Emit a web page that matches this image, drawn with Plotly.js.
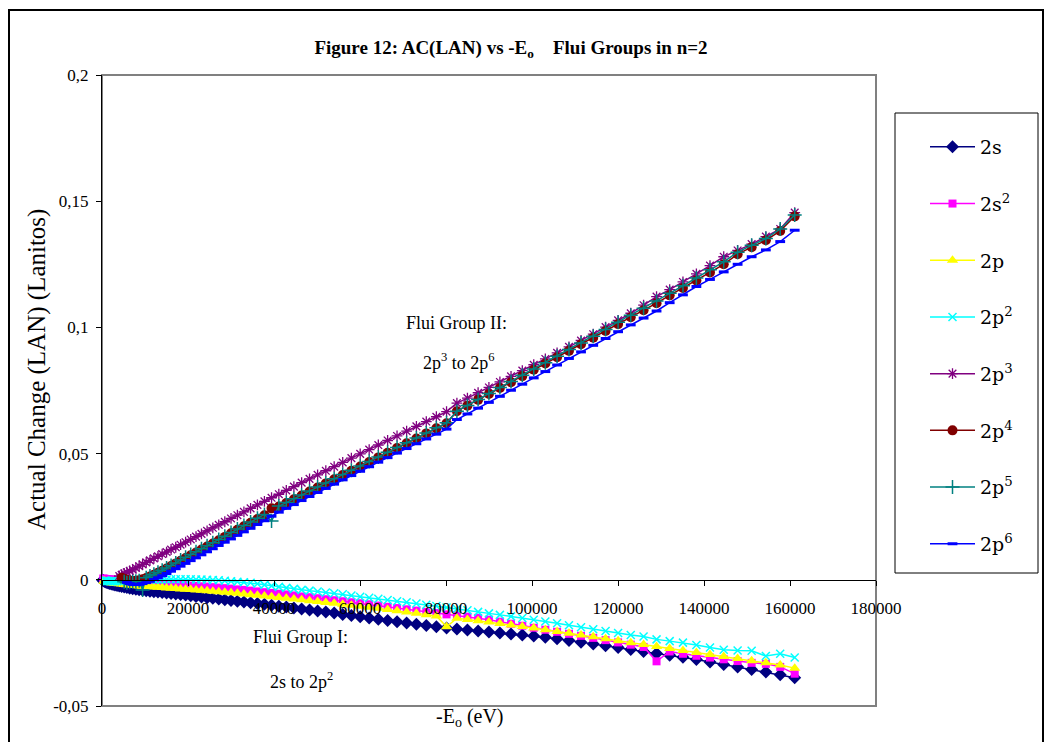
<!DOCTYPE html>
<html>
<head>
<meta charset="utf-8">
<script src="https://cdn.plot.ly/plotly-3.0.1.min.js"></script>
<style>
  html, body { margin: 0; padding: 0; background: #ffffff; }
  #chart { width: 1046px; height: 742px; }
</style>
</head>
<body>
<div id="chart"></div>
<script>
// -E0 (eV) for each ion of the sequence
const energy = [
  161, 286, 446, 643, 875, 1142, 1446, 1785, 2160, 2570,
  3017, 3499, 4016, 4570, 5159, 5783, 6444, 7140, 7872, 8639,
  9443, 10282, 11156, 12067, 13013, 13994, 15012, 16065, 17154, 18278,
  19439, 20635, 21866, 23134, 24437, 25775, 27150, 28560, 30006, 31487,
  33005, 34558, 36146, 37771, 39431, 41126, 42858, 44625, 46428, 48266,
  50141, 52051, 53996, 55978, 57995, 60047, 62136, 64260, 66420, 68615,
  70847, 73114, 75416, 77755, 80129, 82538, 84984, 87465, 89982, 92534,
  95123, 97747, 100406, 103102, 105833, 108599, 111402, 114240, 117114, 120023,
  122969, 125950, 128966, 132019, 135107, 138230, 141390, 144585, 147816, 151082,
  154385, 157723, 161096
];

// Actual change AC(LAN) per configuration (Lanitos)
const ac2s = [
  -0.0002, -0.0003, -0.0005, -0.0007, -0.0009, -0.0011, -0.0013, -0.0015, -0.0017, -0.0019,
  -0.0021, -0.0023, -0.0025, -0.0027, -0.0029, -0.0031, -0.0033, -0.0035, -0.0037, -0.0039,
  -0.0041, -0.0043, -0.0045, -0.0047, -0.0048, -0.0050, -0.0052, -0.0054, -0.0056, -0.0058,
  -0.0060, -0.0063, -0.0066, -0.0068, -0.0071, -0.0073, -0.0076, -0.0079, -0.0082, -0.0085,
  -0.0088, -0.0091, -0.0094, -0.0097, -0.0101, -0.0105, -0.0108, -0.0112, -0.0116, -0.0120,
  -0.0124, -0.0128, -0.0132, -0.0137, -0.0141, -0.0146, -0.0151, -0.0156, -0.0161, -0.0166,
  -0.0171, -0.0176, -0.0181, -0.0186, -0.0191, -0.0195, -0.0199, -0.0203, -0.0207, -0.0211,
  -0.0215, -0.0219, -0.0223, -0.0228, -0.0234, -0.0240, -0.0247, -0.0254, -0.0261, -0.0268,
  -0.0276, -0.0284, -0.0292, -0.0299, -0.0307, -0.0316, -0.0326, -0.0336, -0.0345, -0.0355,
  -0.0365, -0.0376, -0.0388
];
const ac2s2 = [
  null, 0.0005, 0.0004, 0.0004, 0.0003, 0.0003, 0.0002, 0.0002, 0.0001, 0.0000,
  -0.0001, -0.0002, -0.0003, -0.0004, -0.0005, -0.0006, -0.0007, -0.0008, -0.0009, -0.0010,
  -0.0011, -0.0012, -0.0013, -0.0014, -0.0015, -0.0016, -0.0017, -0.0018, -0.0019, -0.0020,
  -0.0021, -0.0023, -0.0024, -0.0026, -0.0027, -0.0029, -0.0031, -0.0033, -0.0035, -0.0038,
  -0.0040, -0.0043, -0.0046, -0.0049, -0.0052, -0.0055, -0.0058, -0.0062, -0.0066, -0.0069,
  -0.0073, -0.0077, -0.0081, -0.0085, -0.0089, -0.0093, -0.0097, -0.0102, -0.0107, -0.0112,
  -0.0117, -0.0122, -0.0127, -0.0132, -0.0137, -0.0141, -0.0146, -0.0151, -0.0158, -0.0166,
  -0.0174, -0.0182, -0.0190, -0.0198, -0.0206, -0.0214, -0.0222, -0.0230, -0.0239, -0.0248,
  -0.0257, -0.0266, -0.0323, -0.0284, -0.0293, -0.0301, -0.0308, -0.0315, -0.0322, -0.0329,
  -0.0333, -0.0345, -0.0372
];
const ac2p = [
  null, null, -0.0005, -0.0006, -0.0008, -0.0009, -0.0010, -0.0011, -0.0012, -0.0013,
  -0.0014, -0.0015, -0.0016, -0.0017, -0.0019, -0.0020, -0.0021, -0.0022, -0.0023, -0.0025,
  -0.0026, -0.0027, -0.0028, -0.0029, -0.0030, -0.0031, -0.0032, -0.0033, -0.0034, -0.0036,
  -0.0037, -0.0038, -0.0040, -0.0041, -0.0043, -0.0045, -0.0047, -0.0049, -0.0051, -0.0053,
  -0.0056, -0.0059, -0.0061, -0.0064, -0.0067, -0.0070, -0.0073, -0.0076, -0.0079, -0.0083,
  -0.0086, -0.0090, -0.0093, -0.0097, -0.0101, -0.0105, -0.0109, -0.0113, -0.0118, -0.0123,
  -0.0128, -0.0133, -0.0138, -0.0143, -0.0186, -0.0152, -0.0157, -0.0162, -0.0167, -0.0173,
  -0.0179, -0.0185, -0.0191, -0.0198, -0.0205, -0.0212, -0.0219, -0.0226, -0.0234, -0.0241,
  -0.0249, -0.0256, -0.0264, -0.0272, -0.0280, -0.0288, -0.0296, -0.0304, -0.0312, -0.0321,
  -0.0329, -0.0338, -0.0350
];
const ac2p2 = [
  null, null, null, -0.0003, -0.0004, -0.0005, -0.0005, -0.0006, -0.0006, -0.0006,
  -0.0006, -0.0006, -0.0005, -0.0005, -0.0004, -0.0004, -0.0003, -0.0003, -0.0002, -0.0002,
  -0.0001, -0.0001, 0.0000, 0.0000, 0.0001, 0.0001, 0.0001, 0.0002, 0.0002, 0.0002,
  0.0002, 0.0002, 0.0001, 0.0001, 0.0000, -0.0001, -0.0002, -0.0004, -0.0006, -0.0008,
  -0.0010, -0.0012, -0.0016, -0.0020, -0.0024, -0.0028, -0.0032, -0.0036, -0.0040, -0.0043,
  -0.0046, -0.0050, -0.0053, -0.0057, -0.0062, -0.0067, -0.0071, -0.0075, -0.0080, -0.0085,
  -0.0089, -0.0094, -0.0099, -0.0104, -0.0110, -0.0116, -0.0121, -0.0127, -0.0133, -0.0139,
  -0.0145, -0.0151, -0.0158, -0.0165, -0.0172, -0.0180, -0.0188, -0.0196, -0.0203, -0.0211,
  -0.0219, -0.0225, -0.0236, -0.0243, -0.0249, -0.0258, -0.0268, -0.0277, -0.0280, -0.0281,
  -0.0302, -0.0293, -0.0308
];
const ac2p3 = [
  null, null, null, null, null, null, null, null, null, null,
  null, null, 0.0015, 0.0020, 0.0025, 0.0030, 0.0035, 0.0040, 0.0047, 0.0054,
  0.0061, 0.0069, 0.0077, 0.0085, 0.0093, 0.0102, 0.0110, 0.0120, 0.0129, 0.0139,
  0.0149, 0.0160, 0.0171, 0.0182, 0.0194, 0.0206, 0.0218, 0.0230, 0.0243, 0.0256,
  0.0269, 0.0283, 0.0297, 0.0311, 0.0325, 0.0339, 0.0354, 0.0369, 0.0385, 0.0400,
  0.0416, 0.0432, 0.0448, 0.0465, 0.0482, 0.0499, 0.0516, 0.0534, 0.0552, 0.0570,
  0.0589, 0.0608, 0.0627, 0.0646, 0.0666, 0.0700, 0.0720, 0.0741, 0.0762, 0.0784,
  0.0806, 0.0829, 0.0852, 0.0875, 0.0899, 0.0923, 0.0948, 0.0973, 0.1001, 0.1028,
  0.1056, 0.1088, 0.1122, 0.1150, 0.1180, 0.1212, 0.1245, 0.1280, 0.1305, 0.1330,
  0.1360, 0.1390, 0.1455
];
const ac2p4 = [
  null, null, null, null, null, null, null, null, null, null,
  null, null, null, 0.0008, 0.0004, 0.0000, -0.0003, -0.0005, -0.0004, -0.0002,
  0.0002, 0.0007, 0.0013, 0.0020, 0.0028, 0.0036, 0.0045, 0.0055, 0.0065, 0.0075,
  0.0086, 0.0097, 0.0108, 0.0120, 0.0132, 0.0144, 0.0157, 0.0170, 0.0184, 0.0198,
  0.0212, 0.0226, 0.0241, 0.0256, 0.0283, 0.0290, 0.0304, 0.0319, 0.0334, 0.0350,
  0.0366, 0.0382, 0.0398, 0.0415, 0.0432, 0.0449, 0.0467, 0.0485, 0.0503, 0.0522,
  0.0541, 0.0560, 0.0580, 0.0600, 0.0620, 0.0668, 0.0690, 0.0713, 0.0736, 0.0760,
  0.0783, 0.0807, 0.0832, 0.0857, 0.0882, 0.0907, 0.0933, 0.0959, 0.0986, 0.1013,
  0.1040, 0.1068, 0.1096, 0.1127, 0.1156, 0.1186, 0.1218, 0.1250, 0.1290, 0.1318,
  0.1345, 0.1382, 0.1440
];
const ac2p5 = [
  null, null, null, null, null, null, null, null, null, null,
  null, null, null, null, -0.0008, -0.0012, -0.0010, -0.0008, -0.0006, -0.0004,
  -0.0040, 0.0008, 0.0015, 0.0022, 0.0030, 0.0038, 0.0047, 0.0057, 0.0067, 0.0078,
  0.0089, 0.0100, 0.0111, 0.0123, 0.0135, 0.0147, 0.0160, 0.0173, 0.0187, 0.0201,
  0.0215, 0.0229, 0.0244, 0.0259, 0.0233, 0.0292, 0.0306, 0.0321, 0.0336, 0.0352,
  0.0368, 0.0384, 0.0400, 0.0417, 0.0434, 0.0451, 0.0469, 0.0487, 0.0505, 0.0524,
  0.0543, 0.0562, 0.0582, 0.0602, 0.0622, 0.0668, 0.0691, 0.0714, 0.0738, 0.0762,
  0.0786, 0.0810, 0.0835, 0.0860, 0.0886, 0.0912, 0.0938, 0.0965, 0.0992, 0.1020,
  0.1048, 0.1076, 0.1105, 0.1135, 0.1165, 0.1196, 0.1228, 0.1260, 0.1298, 0.1325,
  0.1352, 0.1390, 0.1445
];
const ac2p6 = [
  null, null, null, null, null, null, null, null, null, null,
  null, null, null, null, null, -0.0010, -0.0015, -0.0018, -0.0019, -0.0018,
  -0.0015, -0.0011, -0.0006, 0.0001, 0.0008, 0.0016, 0.0025, 0.0034, 0.0044, 0.0054,
  0.0065, 0.0076, 0.0087, 0.0099, 0.0111, 0.0123, 0.0136, 0.0149, 0.0162, 0.0176,
  0.0190, 0.0204, 0.0219, 0.0234, 0.0252, 0.0268, 0.0283, 0.0298, 0.0314, 0.0330,
  0.0346, 0.0362, 0.0379, 0.0396, 0.0413, 0.0430, 0.0448, 0.0466, 0.0484, 0.0502,
  0.0520, 0.0539, 0.0558, 0.0577, 0.0597, 0.0635, 0.0657, 0.0680, 0.0703, 0.0727,
  0.0751, 0.0775, 0.0800, 0.0825, 0.0851, 0.0877, 0.0903, 0.0929, 0.0956, 0.0983,
  0.1010, 0.1037, 0.1065, 0.1098, 0.1129, 0.1162, 0.1190, 0.1220, 0.1250, 0.1280,
  0.1307, 0.1340, 0.1385
];

const seriesNames = ['2s', '2s<sup>2</sup>', '2p', '2p<sup>2</sup>',
                     '2p<sup>3</sup>', '2p<sup>4</sup>', '2p<sup>5</sup>', '2p<sup>6</sup>'];

const xTickVals = [0, 20000, 40000, 60000, 80000, 100000, 120000, 140000, 160000, 180000];
const xTickText = ['0', '20000', '40000', '60000', '80000', '100000', '120000', '140000', '160000', '180000'];
const yTickVals = [-0.05, 0, 0.05, 0.1, 0.15, 0.2];
const yTickText = ['-0,05', '0', '0,05', '0,1', '0,15', '0,2'];

// Excel-like marker styles, one per configuration
const styles = [
  { color: '#000080', symbol: 'diamond',         size: 10, lw: 0 },
  { color: '#FF00FF', symbol: 'square',          size: 8,  lw: 0 },
  { color: '#FFFF00', symbol: 'triangle-up',     size: 10, lw: 0 },
  { color: '#00FFFF', symbol: 'x-thin-open',     size: 8,  lw: 1.5 },
  { color: '#800080', symbol: 'asterisk-open',   size: 9,  lw: 1.3 },
  { color: '#800000', symbol: 'circle',          size: 10, lw: 0 },
  { color: '#008080', symbol: 'cross-thin-open', size: 10, lw: 1.5 },
  { color: '#0000FF', symbol: 'line-ew-open',    size: 7,  lw: 3 }
];

const seriesValues = [ac2s, ac2s2, ac2p, ac2p2, ac2p3, ac2p4, ac2p5, ac2p6];

const traces = seriesValues.map((vals, k) => ({
  type: 'scatter',
  mode: 'lines+markers',
  x: energy,
  y: vals,
  name: seriesNames[k],
  legendgroup: 'g' + k,
  cliponaxis: false,
  line: { color: styles[k].color, width: 1.5 },
  marker: {
    color: styles[k].color,
    symbol: styles[k].symbol,
    size: styles[k].size,
    line: { color: styles[k].color, width: styles[k].lw }
  },
  hoverinfo: 'skip'
}));

// Plot area: 102..876 px horizontally, 75..706 px vertically
const L = 102, R = 876, T = 75, B = 706, W = 1046, H = 742;
const px = v => (v - L) / (R - L);
const py = v => (B - v) / (B - T);

const serif = 'Liberation Serif, Times New Roman, serif';

const layout = {
  width: W,
  height: H,
  margin: { l: L, r: W - R, t: T, b: H - B, pad: 0 },
  paper_bgcolor: '#ffffff',
  plot_bgcolor: '#ffffff',
  showlegend: true,
  font: { family: serif, size: 17, color: '#000000' },
  title: {
    text: '<b>Figure 12: AC(LAN) vs -E<sub>o</sub>\u00a0\u00a0\u00a0\u00a0Flui Groups in n=2</b>',
    xref: 'paper', x: px(511), xanchor: 'center',
    y: 1 - 47 / H, yanchor: 'middle',
    font: { family: serif, size: 19, color: '#000000' }
  },
  xaxis: {
    range: [0, 180000],
    anchor: 'free',
    position: 0.2,
    showline: true, linecolor: '#000000', linewidth: 1,
    ticks: 'outside', ticklen: 5, tickcolor: '#000000', tickwidth: 1,
    tickvals: xTickVals, ticktext: xTickText,
    ticklabelstandoff: 8,
    showgrid: false, zeroline: false,
    tickfont: { family: serif, size: 17, color: '#000000' }
  },
  yaxis: {
    range: [-0.05, 0.2],
    showline: true, linecolor: '#000000', linewidth: 1,
    ticks: 'outside', ticklen: 5, tickcolor: '#000000', tickwidth: 1,
    tickvals: yTickVals, ticktext: yTickText,
    ticklabelstandoff: 4,
    showgrid: false, zeroline: false,
    tickfont: { family: serif, size: 17, color: '#000000' }
  },
  legend: {
    x: px(925), y: py(128), xanchor: 'left', yanchor: 'top',
    bgcolor: 'rgba(0,0,0,0)', borderwidth: 0,
    font: { family: 'DejaVu Serif, serif', size: 19, color: '#000000' },
    itemwidth: 45,
    tracegroupgap: 29,
    itemclick: false, itemdoubleclick: false
  },
  shapes: [
    // outer chart frame
    { type: 'rect', xref: 'paper', yref: 'paper', layer: 'below',
      x0: px(9), x1: px(1043), y0: py(745), y1: py(10),
      line: { color: '#000000', width: 2 } },
    // plot-area border
    { type: 'rect', xref: 'paper', yref: 'paper', layer: 'below',
      x0: 0, x1: 1, y0: 0, y1: 1,
      line: { color: '#808080', width: 2 } },
    // legend box
    { type: 'rect', xref: 'paper', yref: 'paper', layer: 'below',
      x0: px(895), x1: px(1038), y0: py(573), y1: py(113),
      line: { color: '#000000', width: 1 } }
  ],
  annotations: [
    { text: 'Actual Change (LAN) (Lanitos)', textangle: -90,
      xref: 'paper', yref: 'paper', x: px(37), y: py(370),
      xanchor: 'center', yanchor: 'middle', showarrow: false,
      font: { family: serif, size: 25, color: '#000000' } },
    { text: '-E<sub>o</sub> (eV)',
      xref: 'paper', yref: 'paper', x: px(470), y: py(718),
      xanchor: 'center', yanchor: 'middle', showarrow: false,
      font: { family: serif, size: 20, color: '#000000' } },
    { text: 'Flui Group II:',
      xref: 'paper', yref: 'paper', x: px(456), y: py(323),
      xanchor: 'center', yanchor: 'middle', showarrow: false,
      font: { family: serif, size: 18, color: '#000000' } },
    { text: '2p<sup>3</sup> to 2p<sup>6</sup>',
      xref: 'paper', yref: 'paper', x: px(459), y: py(361),
      xanchor: 'center', yanchor: 'middle', showarrow: false,
      font: { family: serif, size: 18, color: '#000000' } },
    { text: 'Flui Group I:',
      xref: 'paper', yref: 'paper', x: px(300), y: py(637),
      xanchor: 'center', yanchor: 'middle', showarrow: false,
      font: { family: serif, size: 18, color: '#000000' } },
    { text: '2s to 2p<sup>2</sup>',
      xref: 'paper', yref: 'paper', x: px(301), y: py(680),
      xanchor: 'center', yanchor: 'middle', showarrow: false,
      font: { family: serif, size: 18, color: '#000000' } }
  ]
};

Plotly.newPlot('chart', traces, layout, { displayModeBar: false, staticPlot: true });
</script>
</body>
</html>
